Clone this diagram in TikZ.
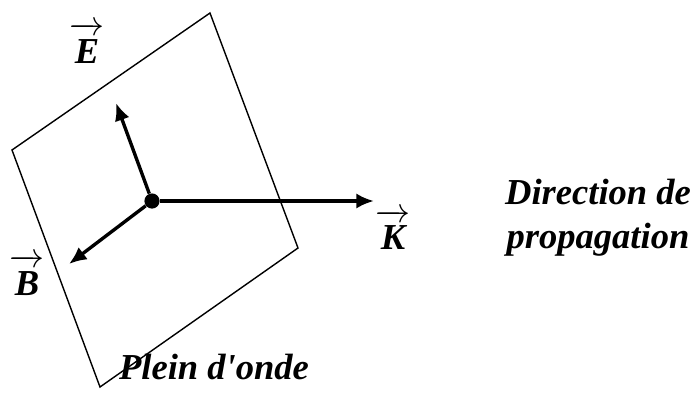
\documentclass[tikz,border=0pt]{standalone}
\usepackage{amsmath}
\usepackage{fontspec}
\setmainfont{Liberation Serif}
\usetikzlibrary{arrows.meta,calc}

\tikzset{
  champ/.style={->,line width=2.4pt},
  lbl/.style={font=\fontsize{26}{31}\selectfont\bfseries\itshape,inner sep=1pt},
}
\newcommand{\vect}[1]{\ensuremath{\overrightarrow{\raisebox{0pt}[1.15\height]{\textbf{\textit{#1}}}}}}

\begin{document}
\begin{tikzpicture}[>={Latex[length=0.44cm,width=0.38cm]}]
    \useasboundingbox (-3.8,-4.9) rectangle (13.65,5.025);
    % plan d'onde
    \draw[line width=1pt] (1.45,4.7) -- (-3.5,1.275) -- (-1.3,-4.65) -- (3.65,-1.175) -- cycle;
    \node[circle,fill,inner sep=0,minimum size=0.38cm] (O) at (0,0) {};
    \coordinate (Etip) at (-0.9,2.45);
    \coordinate (Btip) at (-2.075,-1.575);
    \coordinate (Ktip) at (5.55,0);
    % champs
    \draw[champ] (O) -- (Etip);
    \draw[champ] (O) -- (Btip);
    \draw[champ] (O) -- (Ktip);
    \node[lbl] (E) at (-1.625,3.95) {\vect{E}};
    \node[lbl] (B) at (-3.125,-1.85) {\vect{B}};
    \node[lbl] (K) at (6.025,-0.72) {\vect{K}};
    \node[lbl,align=center] (dir) at (11.15,-0.42) {Direction de\\propagation};
    \node[lbl] (plan) at (1.55,-4.15) {Plein d\textquotesingle onde};
\end{tikzpicture}
\end{document}
